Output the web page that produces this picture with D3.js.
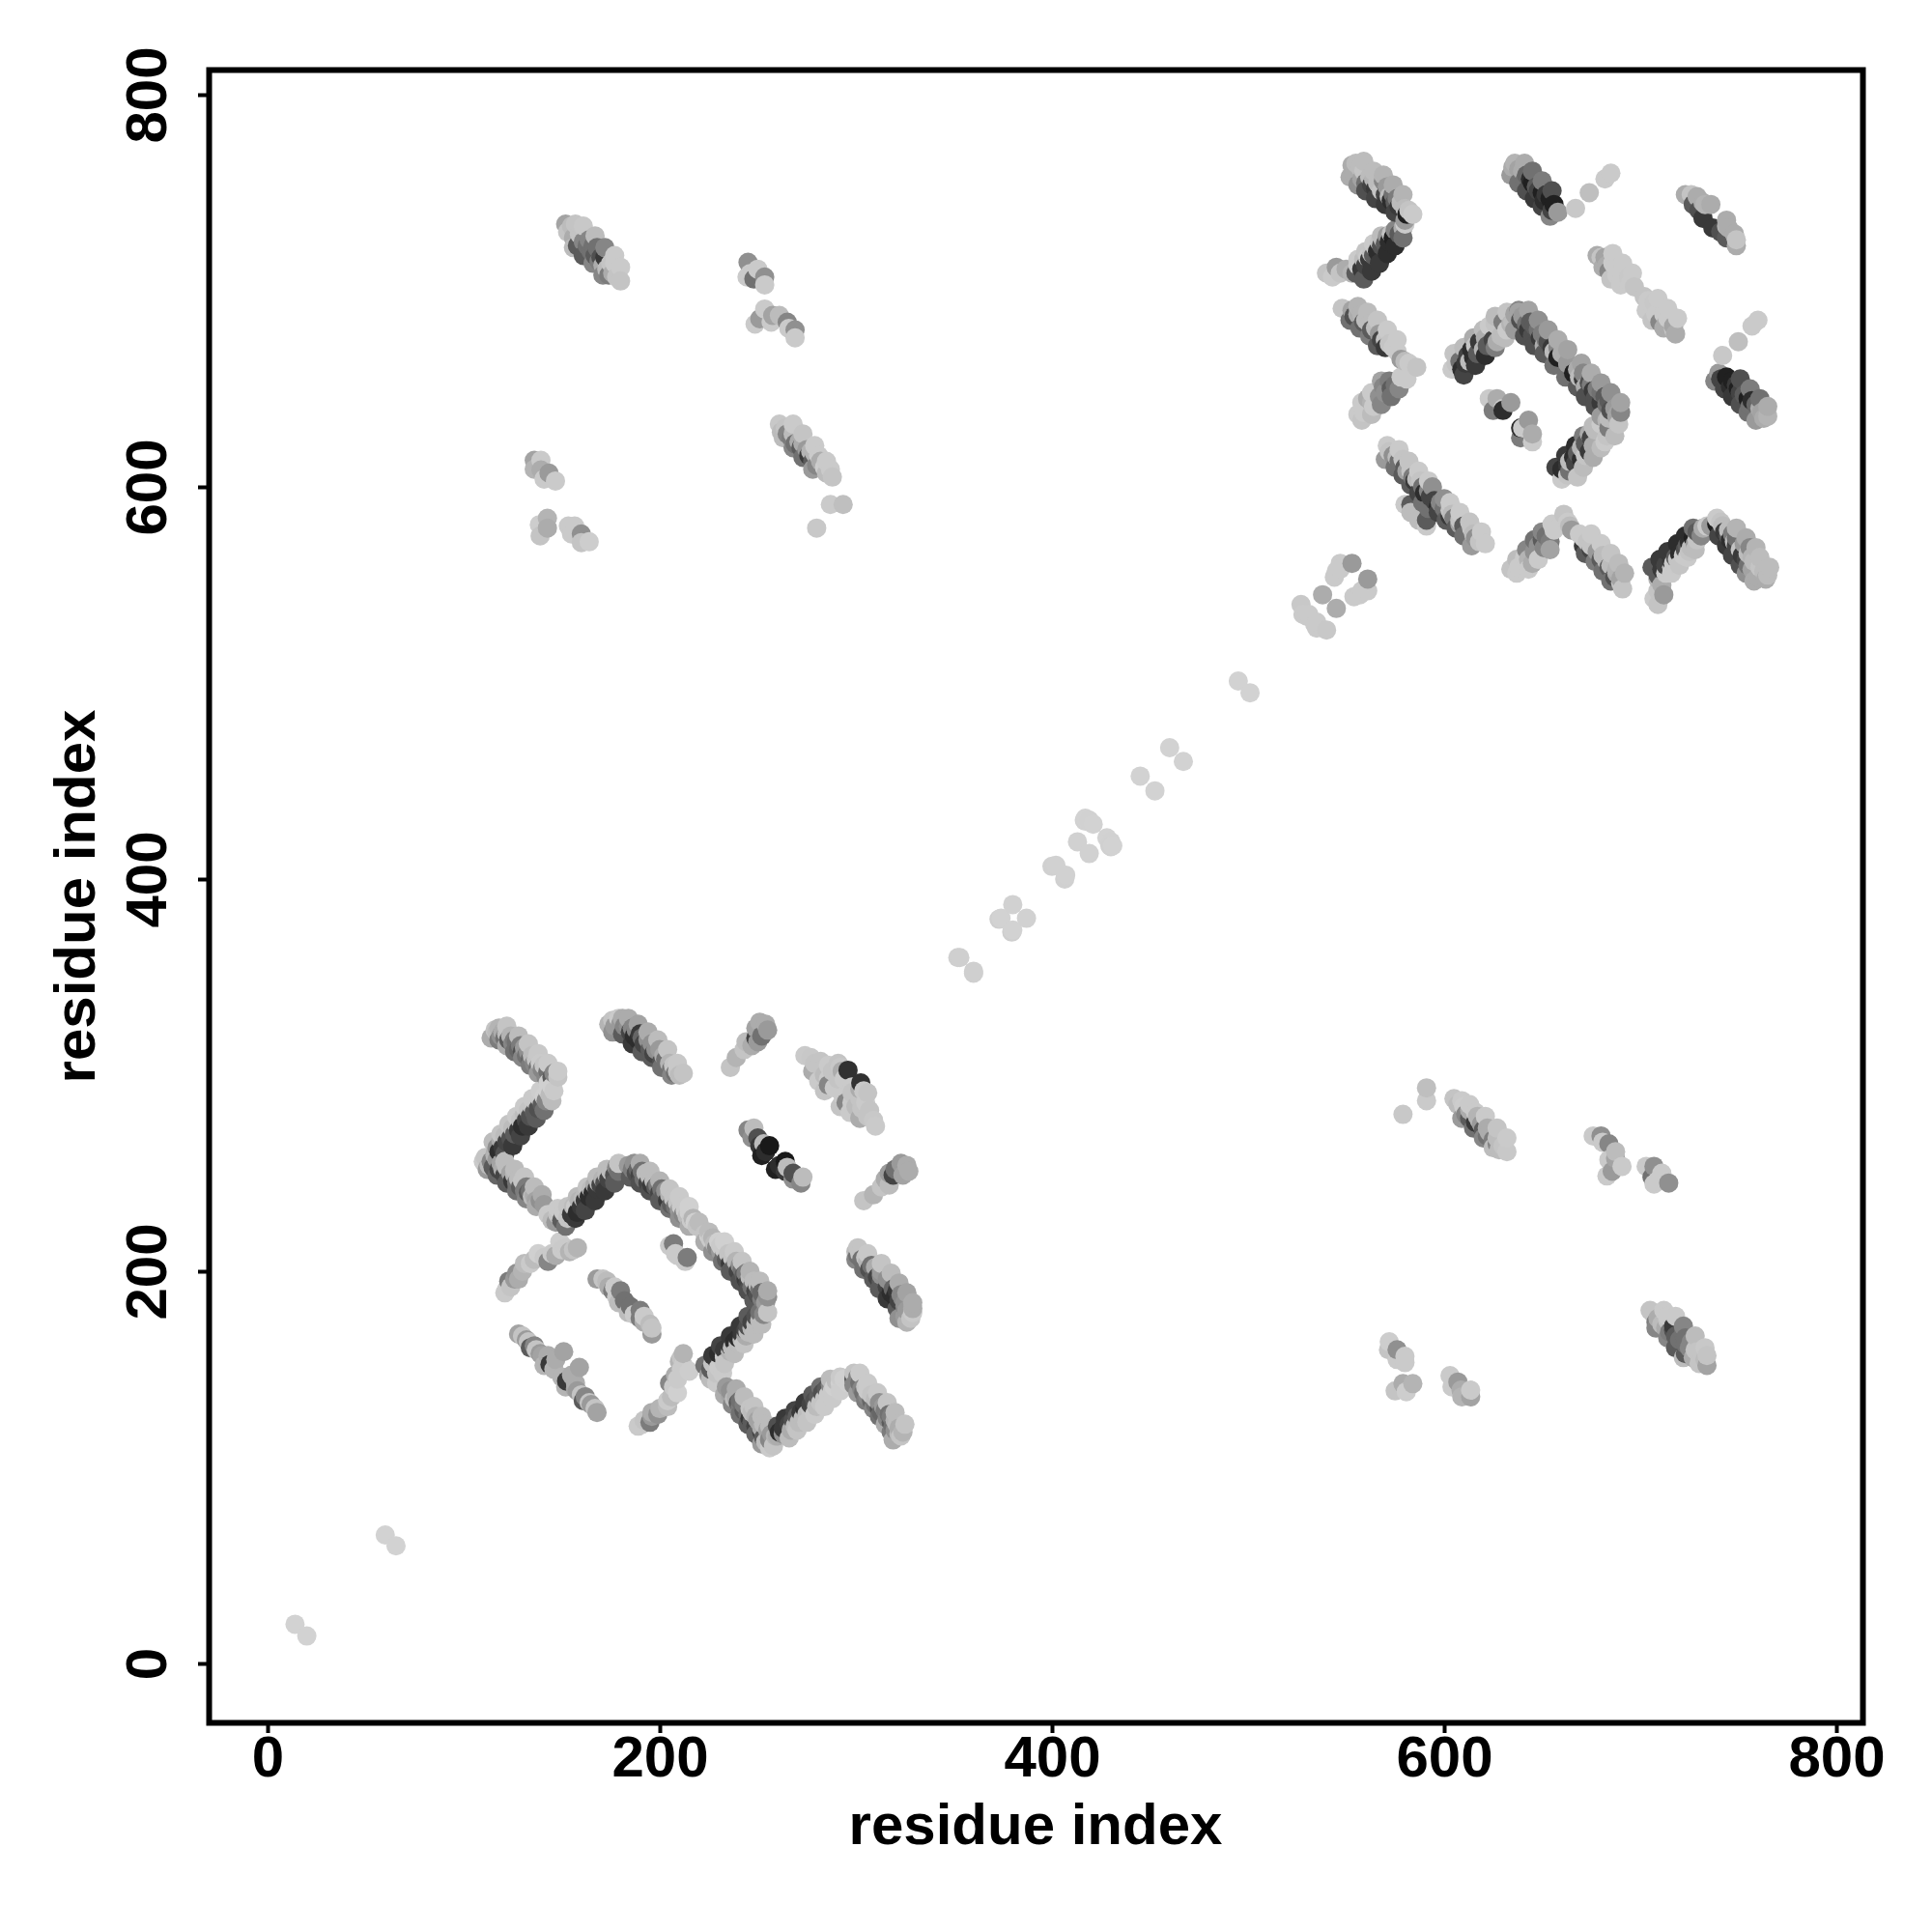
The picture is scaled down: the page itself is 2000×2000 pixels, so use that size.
<!DOCTYPE html>
<html><head><meta charset="utf-8">
<script src="https://cdn.jsdelivr.net/npm/d3@7/dist/d3.min.js"></script>
<style>html,body{margin:0;background:#fff}svg{display:block}</style></head>
<body><div id="chart"></div>
<script>
// Contact map: each contact is [residue i, residue j, strength]; a contact is symmetric, so it appears at (i,j) and (j,i).
const tickValues = [0, 200, 400, 600, 800];
const axisTitle = "residue index";
const diagonal = [[14,20,.03],[60,65.5,.03],[352,360,.06],[353,360,.06],[380,387,.04],[373,379.5,.07],[374,380,.03],[400,406.5,.05],[402,407,.04],[413,419,.04],[417,429.5,.04],[419,430,.04],[421,428,.03],[416.5,430,.05],[417,431,.03],[445,452.5,.03],[460,467,.03],[495,501,.03]];
const nearA = [[116,323,.15],[117,322,.2],[118,324,.25],[119,320,.45],[120,322,.3],[121,319,.6],[122,321,.2],[123,318,.7],[124,320,.25],[125,316,.5],[126,318,.55],[127,317,.6],[128,313,.65],[129,315,.55],[130,312,.75],[131,314,.4],[132,310,.6],[133,312,.45],[134,308,.65],[135,310,.2],[136,306,.5],[137,308,.15],[138,304,.6],[139,306,.1],[140,303,.5],[141,305,.15],[143,302,.6],[145,299,.7],[146,301,.5],[148,299,.15]];
const nearB = [[116,260,.3],[117,263,.45],[118,261,.9],[119,267,.3],[120,263,.85],[121,269,.2],[122,266,.8],[123,271,.2],[124,268,.75],[125,273,.2],[126,270,.7],[127,275,.2],[128,272,.85],[129,277,.15],[130,274,.9],[131,280,.2],[132,277,.8],[133,282,.15],[134,279,.75],[135,284,.15],[136,281,.7],[137,286,.1],[138,283,.75],[139,288,.1],[140,285,.7],[141,289,.05],[142,287,.5],[143,292,.05],[144,290,.2],[145,294,.05],[146,292,.1],[143,296,.05]];
const nearC = [[110,256,.1],[111,258,.15],[113,254,.2],[114,256,.5],[115,253,.7],[117,257,.4],[118,252,.8],[119,255,.35],[120,252,.3],[121,249,.8],[122,253,.2],[123,247,.7],[124,250,.35],[125,246,.85],[126,249,.25],[127,245,.6],[128,247,.2],[129,243,.7],[130,246,.15],[131,241,.55],[132,243,.55],[133,240,.7],[134,241,.6],[135,238,.2],[136,239,.3],[137,236,.35],[139,236,.45],[141,234,.4]];
const nearD = [[143,229,.1],[145,226,.2],[147,225,.4],[148,229,.15],[150,226,.7],[151,230,.1],[153,227,.15],[155,229,.85],[156,233,.2],[157,233,.1],[158,230,.9],[159,236,.25],[160,233,.85],[161,237,.2],[162,236,.85],[163,240,.2],[164,238,.9],[165,242,.2],[166,240,.9],[167,244,.3],[168,242,.85],[169,245,.2],[170,244,.8],[171,247,.25],[172,245,.75],[173,249,.2],[174,247,.8],[175,251,.2],[177,249,.75],[178,253,.5],[179,251,.6],[179,255,.15]];
const nearE = [[184,254,.4],[186,252,.55],[187,255,.45],[188,250,.75],[189,252,.65],[190,249,.8],[191,251,.6],[192,247,.6],[193,250,.2],[194,245,.8],[195,248,.2],[196,244,.85],[197,246,.2],[198,243,.7],[199,244,.55],[200,240,.8],[201,242,.6],[202,238,.7],[203,241,.45],[204,236,.85],[205,239,.25],[206,234,.7],[207,237,.15],[208,233,.6],[209,235,.15],[210,231,.4],[211,233,.1],[212,229,.5],[213,231,.1],[214,228,.2],[215,230,.05],[216,226,.1],[217,227,.25],[218,225,.05],[219,223,.15],[220,225,.2]];
const nearF = [[205,213,.1],[207,214,.55],[208,209,.1]];
const nearG = [[174,326,.25],[176,328,.15],[177,325,.4],[179,329,.1],[180,326,.4],[181,329,.3],[182,325,.5],[184,325,.45],[185,322,.8],[186,324,.5],[187,320,.9],[188,323,.5],[189,318,.9],[190,321,.85],[191,319,.65],[192,316,.8],[194,318,.45],[195,313,.7],[196,316,.45],[197,311,.8],[198,313,.45],[200,313,.4],[201,307,.75],[202,310,.3],[203,308,.6],[205,306,.25],[206,303,.6],[207,305,.15],[208,301,.6],[209,302,.15],[210,300,.2],[212,301,.15]];
const nearH = [[236,304,.15],[239,309,.25],[243,313,.15],[244,317,.2],[247,315,.3],[249,319,.8],[250,317,.4],[252,320,.6],[249,324,.35],[251,327,.3],[254,326,.3],[255,323,.4]];
const nearI = [[274,310,.1],[277,309,.12],[279,306,.15],[278,302,.3],[282,307,.15],[283,303,.15],[284,300,.2],[281,297,.1],[286,305,.1],[288,302,.15],[286,298,.1],[284,292,.15],[289,293.5,.1],[286,295,.5],[291,306,.15],[293,302,.3],[294,298,.1],[296,302.5,.88],[291,298,.15],[292,304,.12]];
const nearJ = [[245,272,.5],[248,273,.2],[247,268,.45],[250,268,.75],[251,264,.85],[253,265,.2],[254,261,.9],[252,259,.95],[256,264,.98]];
const nearM = [[121,189,.1],[122,191,.1],[123,195,.55],[124,192,.15],[126,196,.4],[127,199,.45],[128,196,.3],[130,200,.25],[131,204,.2],[134,204,.1],[136,206,.2],[138,209,.05],[141,207,.1],[143,205,.5],[145,209,.1],[147,208,.3],[149,215,.08],[150,211,.1],[152,212,.1],[154,210,.25],[156,211,.15],[158,212,.25]];
const nearN = [[168,196,.4],[171,196,.15],[173,195,.2],[174,192,.3],[176,190,.55],[177,192,.1],[178,187,.1],[180,190,.55],[179,184,.2],[182,185,.6]];
const nearO = [[128,168,.35],[130,167,.15],[132,165,.4],[133,164,.15],[134,161,.7],[136,162,.5],[137,160,.15],[139,158,.4],[140,157,.35],[141,152,.25],[143,157,.3],[144,152.5,.85],[146,150,.25],[147,155,.3],[151,159,.35]];
const nearEdges = [[114,319,.3],[118,318,.55],[122,315,.3],[126,312,.6],[130,309,.5],[134,305,.55],[138,301,.4],[142,299,.5],[122,325,.15],[128,320,.2],[133,316,.15],[138,311,.12],[143,306,.1],[148,302,.1],
  [121,260,.75],[125,264,.85],[129,269,.8],[133,274,.85],[137,278,.7],[141,282,.6],[145,287,.2],[115,266,.2],[119,270,.15],[123,275,.15],[127,279,.1],[131,284,.1],[135,288,.1],[139,292,.08],
  [116,259,.25],[121,256,.2],[126,252,.2],[131,248,.15],[136,243,.2],[140,239,.3],[112,252,.4],[117,249,.65],[122,245,.7],[127,241,.6],[132,237,.5],[137,233,.3],
  [152,223,.6],[157,227,.85],[162,231,.8],[167,236,.85],[172,241,.85],[177,245,.7],[148,232,.1],[153,233,.15],[158,238,.2],[163,243,.15],[168,248,.2],[173,252,.2],
  [185,248,.7],[190,245,.75],[195,241,.75],[200,236,.7],[205,232,.6],[210,227,.45],[215,223,.3],[190,255,.3],[195,251,.2],[200,246,.25],[205,242,.15],[210,238,.1],[215,233,.05],
  [176,322,.45],[181,321,.7],[186,316,.85],[191,312,.7],[196,309,.7],[201,304,.6],[206,300,.5],[184,329,.3],[189,326,.35],[194,322,.3],[199,318,.2],[204,313,.15],[209,306,.12]];
const farA = [[553,764,.3],[555,765,.2],[554,760,.3],[557,763,.2],[559,761,.15],[558,757,.35],[560,755,.6],[562,758,.2],[563,754,.8],[564,757,.25],[565,752,.85],[566,755,.2],[568,751,.15],[569,756,.5],[570,749,.8],[571,753,.4],[572,748,.2],[573,746,.9],[574,749,.6],[575,745,.7],[576,747,.55],[577,743,.85],[578,745,.2],[580,742,.2],[581,739,.95],[582,741,.15],[584,739,.1]];
const farB = [[540,709,.15],[543,707,.1],[545,712,.4],[547,709,.15],[550,711,.3],[553,709,.25],[555,709,.7],[556,713,.1],[558,711,.85],[559,716,.2],[560,713,.8],[561,717,.1],[562,716,.85],[563,719,.15],[564,718,.7],[565,722,.1],[566,720,.9],[567,725,.15],[568,723,.75],[569,726,.2],[570,724,.7],[571,728,.4],[572,725,.9],[573,729,.15],[574,727,.95],[575,731,.5],[577,729,.7],[579,732,.3],[580,734,.1]];
const farC = [[548,691,.15],[551,690,.15],[553,690,.35],[554,687,.75],[556,688,.3],[558,688,.25],[559,684,.7],[560,685,.2],[562,683,.2],[563,680,.7],[565,681,.2],[567,678,.4],[568,675,.8],[570,675,.15],[572,673,.15],[570,671,.85],[574,671,.1],[576,669,.1],[578,665,.4],[580,664,.2],[582,663,.1],[586,661,.15]];
const farD = [[556,637,.1],[559,638,.1],[561,645,.3],[563,643,.25],[564,641,.1],[567,646,.45],[569,651,.5],[570,648,.45],[572,654,.55],[573,650,.7],[575,652,.6],[578,656,.1],[581,655,.1]];
const farE = [[571,621,.1],[572,618,.15],[574,616,.45],[576,615,.2],[577,613,.6],[579,614,.15],[580,610,.7],[581,608,.35],[583,608,.15],[584,605,.55],[585,603,.85],[586,604,.2],[588,603,.15],[589,600,.6],[590,597,.9],[592,598,.5],[594,600,.45],[593,595,.8]];
const farF = [[580,591,.1],[583,591,.7],[587,583,.2]];
const farG = [[635,763,.3],[636,765,.25],[638,762,.35],[640,761,.3],[641,756,.6],[642,759,.65],[644,757,.9],[645,755,.95],[647,753,.7],[648,751,.8],[650,750,.95],[652,749,.85],[651,746,.9],[654,747,.95],[656,744,.95],[655,741,.8],[658,740,.4],[667,742,.12],[674,750,.18],[682,757,.1],[685,760,.1]];
const farH = [[723,749,.3],[726,749,.15],[727,744,.7],[729,748,.3],[732,745,.3],[730,741,.75],[732,737,.85],[733,744,.25],[736,744,.3]];
const farI = [[678,718,.3],[680,717,.15],[682,717,.35],[683,713,.3],[684,710,.5],[686,714,.1],[688,712,.1],[688,708,.1],[691,707,.1],[694,707,.12],[695,704,.1],[697,702,.15]];
const farJ = [[604,660,.1],[606,663,.15],[608,664,.6],[609,660,.9],[611,663,.85],[612,667,.8],[613,664,.2],[614,670,.9],[615,666,.9],[616,672,.15],[617,668,.7],[618,674,.85],[620,670,.25],[621,676,.3],[622,672,.7],[623,682,.1],[625,675,.8],[626,683,.15],[627,674,.3],[630,684,.55],[629,677,.2],[632,680,.1],[634,683,.25],[636,688,.35],[638,690,.5]];
const farK = [[635,684,.2],[638,689,.35],[639,685,.75],[640,687,.4],[642,683,.6],[643,680,.85],[644,684,.7],[646,682,.7],[645,677,.75],[648,680,.6],[649,676,.85],[650,678,.55],[652,675,.55],[651,672,.3],[653,674,.75],[655,671,.85],[656,669,.2],[658,671,.5],[660,668,.3],[658,666,.95],[663,663,.4]];
const farL = [[623,645,.1],[627,645,.3],[625,639,.55],[630,640,.1],[634,643,.4],[630,639,.9]];
const farO = [[547,561,.1],[553,561,.4],[544,554,.1],[545,557,.1],[538,545,.3],[527,540,.12],[528,535,.1],[530,534,.1],[531,535,.1],[547,558,.1]];
const farEdges = [[552,758,.3],[556,754,.45],[560,751,.75],[565,747,.8],[570,744,.85],[575,740,.8],[580,736,.4],[559,766,.2],[564,761,.2],[569,759,.25],[574,754,.3],[579,749,.25],
  [559,706,.7],[563,710,.85],[567,714,.85],[571,719,.9],[575,723,.9],[579,727,.6],[556,716,.1],[560,720,.15],[564,724,.1],[568,728,.2],
  [552,685,.6],[557,681,.6],[562,677,.55],[566,672,.7],[556,692,.25],[561,689,.2],[566,685,.15],[571,680,.1],[576,675,.1],
  [558,634,.15],[563,637,.2],[568,642,.5],[573,646,.6],[577,650,.5],[558,643,.1],[563,648,.1],[568,654,.35],
  [570,614,.4],[575,610,.6],[579,606,.7],[583,601,.7],[587,597,.8],[589,592,.6],[577,619,.1],[582,613,.15],[587,608,.1],[592,603,.1],
  [634,759,.4],[638,755,.6],[642,751,.75],[646,747,.85],[650,743,.8],[654,738,.5],[641,765,.3],[645,761,.6],[650,756,.55],[655,751,.75],
  [610,657,.8],[616,662,.85],[621,667,.9],[626,671,.55],[631,676,.2],[605,668,.15],[610,671,.2],[615,676,.3],[620,680,.2],[626,687,.2],[632,689,.15],
  [636,680,.4],[641,677,.75],[646,672,.75],[651,668,.7],[656,662,.6],[643,690,.35],[648,685,.45],[653,680,.4],[658,675,.3],[663,670,.35],
  [681,712,.3],[685,706,.15],[690,703,.1],[686,719,.1],[691,714,.1],[696,709,.1]];
const crossA = [[152,734,.35],[153,730,.15],[155,733,.2],[157,734,.15],[156,727,.3],[159,729,.15],[158,723,.7],[161,725,.5],[160,728,.15],[163,723,.6],[164,726,.5],[165,720,.6],[166,723,.6],[167,718,.7],[168,722,.6],[169,715,.55],[170,717,.75],[171,713,.3],[172,717,.85],[173,711,.2],[174,708,.55],[175,714,.15],[176,709,.3],[177,714,.1],[178,707,.15],[180,712,.1],[180,705,.15]];
const crossB = [[245,714.5,.45],[250,711,.1],[246,708.7,.1],[253.5,707,.45],[248,706,.6],[253.5,703,.1],[244.5,707,.1]];
const crossC = [[248.6,683,.1],[253.5,690.7,.1],[251,685.7,.4],[257.6,687.4,.35],[261,687.4,.2],[265,684,.5],[265.8,680.8,.1],[269,680,.45],[269,676,.1],[256.8,684,.1]];
const crossD = [[261,632,.12],[262,628,.2],[264,630,.15],[265,627,.5],[267,625,.55],[268,627,.2],[269,622,.6],[271,623,.3],[272,620,.7],[273,622,.3],[275,619,.4],[276,616,.85],[277,618,.25],[278,613,.7],[279,617,.25],[280,611,.5],[281,616,.1],[282,613,.3],[284,610,.08],[285,607,.2],[287,609,.1],[288,605,.15],[287,591,.1],[293.5,591,.18],[280,579,.12]];
const crossE = [[136,613.5,.35],[139.4,613.5,.1],[136,609,.25],[139.4,608.6,.3],[143.5,607,.4],[146.8,603,.1],[141,604,.1]];
const crossF = [[142.7,584,.25],[138.6,580.7,.08],[139,575,.15],[142.7,579,.3],[153.4,580,.1],[156.6,580,.1],[155,576,.1],[160,576,.45],[160,571.6,.15],[164,572,.08]];
const crossEdges = [[156,722,.2],[161,718,.7],[166,714,.5],[171,708,.5],[161,733,.12],[167,728,.2],[172,722,.5],[177,718,.1],[263,625,.2],[268,620,.5],[273,615,.6],[278,609,.4],[268,632,.1],[273,627,.15],[279,621,.1],[285,613,.1]];

const contacts = [].concat(diagonal, nearA, nearB, nearC, nearD, nearE, nearF, nearG, nearH, nearI, nearJ, nearM, nearN, nearO, nearEdges,
  farA, farB, farC, farD, farE, farF, farG, farH, farI, farJ, farK, farL, farO, farEdges,
  crossA, crossB, crossC, crossD, crossE, crossF, crossEdges);
const points = contacts.flatMap(([i, j, s]) => [{x: i, y: j, s}, {x: j, y: i, s}]).sort((a, b) => d3.ascending(a.x, b.x));

const svg = d3.select("#chart").append("svg").attr("width", 2000).attr("height", 2000);
const x = d3.scaleLinear().domain([0, 800]).range([277, 1901]);
const y = d3.scaleLinear().domain([0, 800]).range([1722, 98]);
const shade = d3.scalePow().exponent(1.3).domain([0, 1]).range(["#d4d4d4", "#141414"]);
const font = "'Liberation Sans', Arial, Helvetica, sans-serif";

svg.append("g").selectAll("circle").data(points).join("circle")
  .attr("cx", d => x(d.x)).attr("cy", d => y(d.y)).attr("r", 10).attr("fill", d => shade(d.s));

const style = g => {
  g.select(".domain").remove();
  g.selectAll(".tick line").attr("stroke", "#000").attr("stroke-width", 4);
  g.selectAll(".tick text").attr("fill", "#000").attr("font-family", font).attr("font-weight", "bold").attr("font-size", 60);
};
const bottom = svg.append("g").attr("transform", "translate(0,1783)")
  .call(d3.axisBottom(x).tickValues(tickValues).tickSize(11).tickFormat(d3.format("d"))).call(style);
bottom.selectAll(".tick text").attr("y", 0).attr("dy", 0).attr("transform", "translate(0,56)");
const left = svg.append("g").attr("transform", "translate(216,0)")
  .call(d3.axisLeft(y).tickValues(tickValues).tickSize(11).tickFormat(d3.format("d"))).call(style);
left.selectAll(".tick text").attr("x", 0).attr("dy", 0).attr("text-anchor", "middle").attr("transform", "translate(-44,0) rotate(-90)");

svg.append("rect").attr("x", 216.5).attr("y", 72.5).attr("width", 1712).attr("height", 1711)
  .attr("fill", "none").attr("stroke", "#000").attr("stroke-width", 6);

svg.append("text").attr("x", 1072).attr("y", 1909).attr("text-anchor", "middle")
  .attr("font-family", font).attr("font-weight", "bold").attr("font-size", 60).text(axisTitle);
svg.append("text").attr("transform", "translate(98,928) rotate(-90)").attr("text-anchor", "middle")
  .attr("font-family", font).attr("font-weight", "bold").attr("font-size", 60).text(axisTitle);
</script></body></html>
